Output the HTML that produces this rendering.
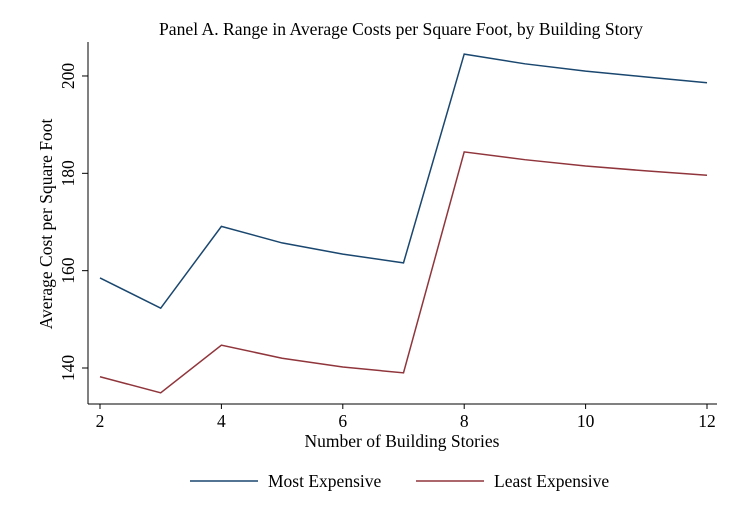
<!DOCTYPE html>
<html><head><meta charset="utf-8"><style>
body{margin:0;background:#fff;}
svg text{font-family:"Liberation Serif",serif;fill:#000;}
</style></head><body>
<svg width="754" height="510" viewBox="0 0 754 510">
<text x="401" y="35" font-size="17.6" text-anchor="middle">Panel A. Range in Average Costs per Square Foot, by Building Story</text>
<g id="axes"></g>
<g id="series"></g>
<text x="402" y="447" font-size="17.5" text-anchor="middle">Number of Building Stories</text>
<text transform="translate(52,224) rotate(-90)" font-size="17.5" text-anchor="middle">Average Cost per Square Foot</text>
<g>
<line x1="190" y1="481" x2="258" y2="481" stroke="#1a476f" stroke-width="1.5"/>
<text x="268" y="487" font-size="17.5">Most Expensive</text>
<line x1="416" y1="481" x2="484" y2="481" stroke="#90353b" stroke-width="1.5"/>
<text x="494" y="487" font-size="17.5">Least Expensive</text>
</g>
</svg>
<script>
const stories=[2,3,4,5,6,7,8,9,10,11,12];
const mostExpensive=[158.5,152.3,169.1,165.7,163.4,161.6,204.5,202.5,201.0,199.8,198.6];
const leastExpensive=[138.2,134.9,144.7,142.0,140.2,139.0,184.4,182.8,181.5,180.5,179.6];
const xTicks=[2,4,6,8,10,12];
const yTicks=[140,160,180,200];
const NS="http://www.w3.org/2000/svg";
function xs(v){return 100+(v-2)*60.7;}
function ys(v){return 368-(v-140)*4.867;}
function mk(t,a,p){const e=document.createElementNS(NS,t);for(const k in a)e.setAttribute(k,a[k]);p.appendChild(e);return e;}
const ax=document.getElementById('axes');
const yl=mk('line',{x1:88,y1:42,x2:88,y2:404,stroke:'#000','stroke-width':1},ax);


const xl=mk('line',{x1:88,y1:404,x2:717,y2:404,stroke:'#000','stroke-width':1},ax);


xTicks.forEach(v=>{
 const t=mk('line',{x1:xs(v),y1:404,x2:xs(v),y2:409,stroke:'#000'},ax);
 
 
 const l=mk('text',{x:xs(v),y:427,'font-size':17.5,'text-anchor':'middle'},ax);l.textContent=v;
 
 
});
yTicks.forEach(v=>{
 const t=mk('line',{x1:82,y1:ys(v),x2:88,y2:ys(v),stroke:'#000'},ax);
 
 
 const l=mk('text',{transform:`translate(74,${ys(v)}) rotate(-90)`,'font-size':17.5,'text-anchor':'middle'},ax);l.textContent=v;
 
 
});
const sg=document.getElementById('series');
function line(vals,col,name){
 const p=mk('polyline',{points:stories.map((s,i)=>xs(s)+','+ys(vals[i])).join(' '),fill:'none',stroke:col,'stroke-width':1.5},sg);
 
 
}
line(mostExpensive,'#1a476f','line-most-expensive');
line(leastExpensive,'#90353b','line-least-expensive');
</script>
</body></html>
